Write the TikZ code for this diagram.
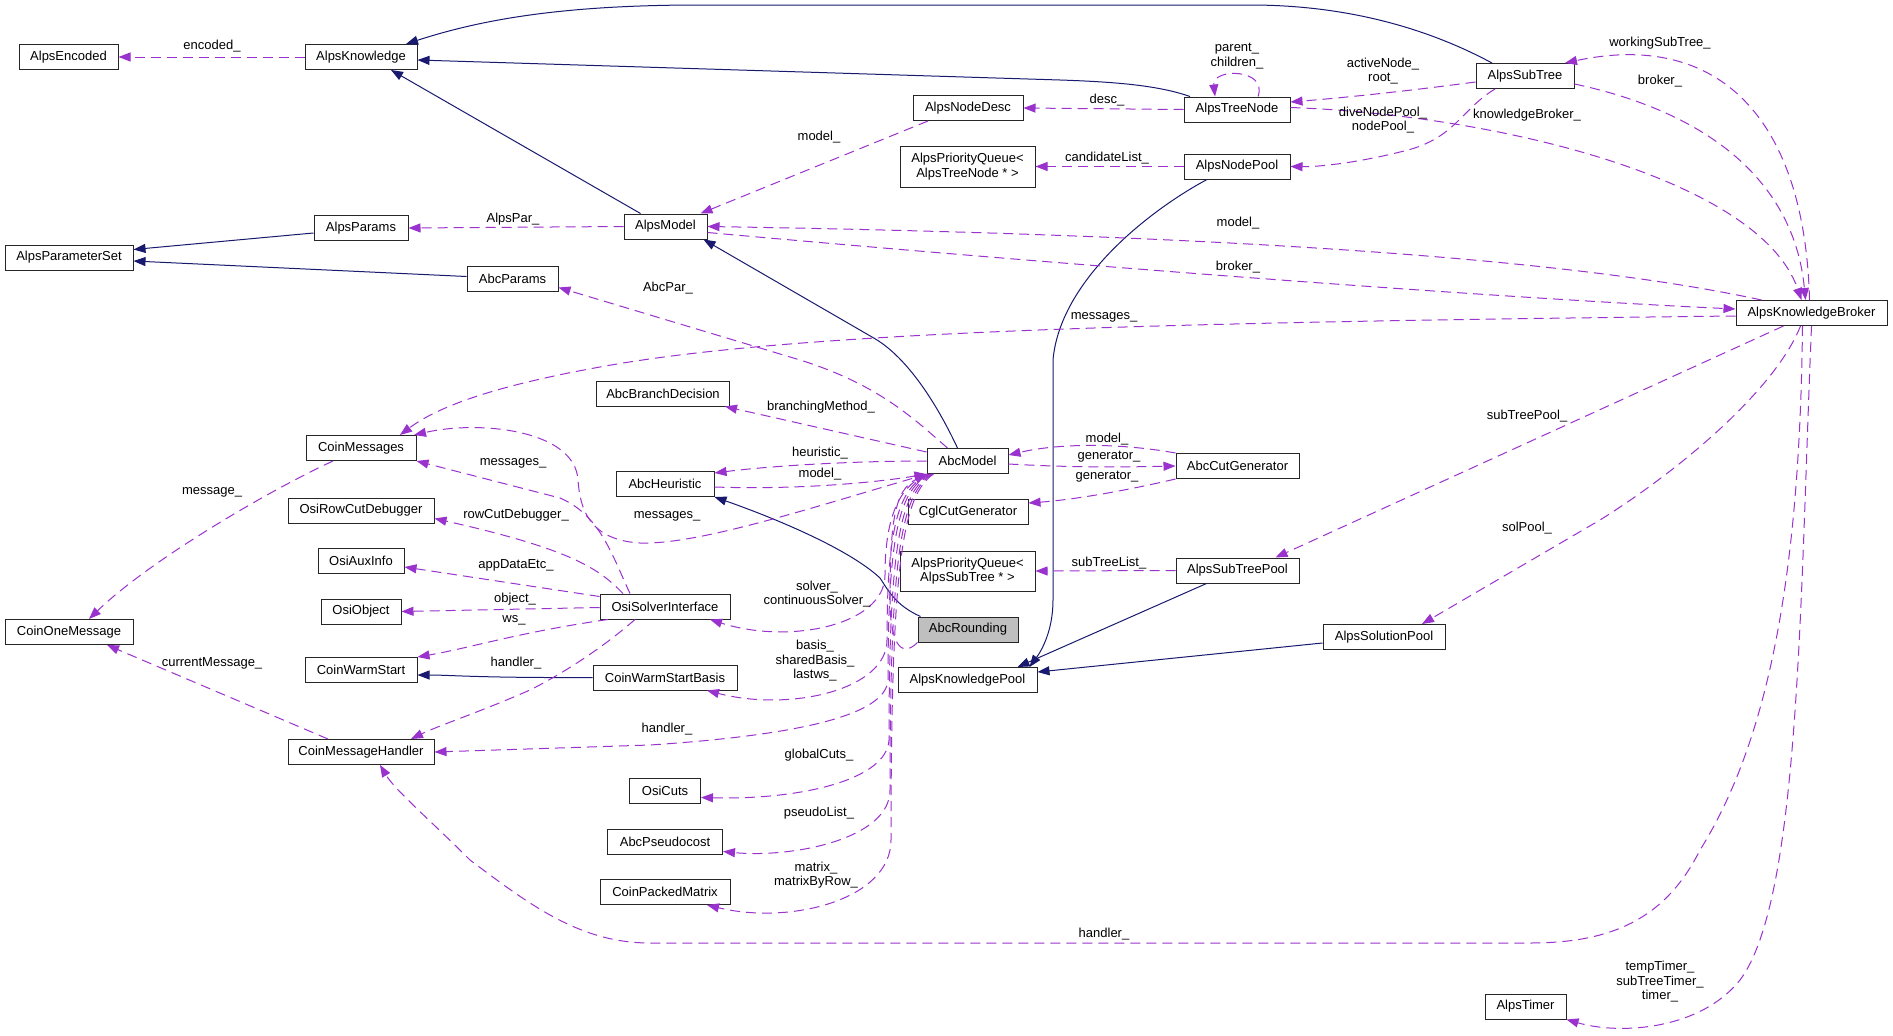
\documentclass[tikz,border=0pt]{standalone}
\usepackage{fontspec}
\setmainfont{Liberation Sans}
\usepackage{tikz}
\usetikzlibrary{arrows.meta}
\definecolor{inhblue}{RGB}{25,25,112}
\definecolor{usepurple}{RGB}{154,50,205}
\definecolor{focusgray}{RGB}{191,191,191}
\tikzstyle{cls} = [rectangle, draw=black!85, line width=1pt, fill=white, minimum height=25pt, inner sep=2pt, align=center, font=\fontsize{13}{14.5}\selectfont]
\tikzstyle{lbl} = [inner sep=0pt, align=center, font=\fontsize{13}{14.5}\selectfont]
\tikzstyle{inherit} = [draw=inhblue, line width=1pt, -{Triangle[length=12pt,width=9pt]}]
\tikzstyle{member} = [draw=usepurple, line width=1pt, dash pattern=on 10pt off 6pt, -{Triangle[length=12pt,width=9pt]}]

\begin{document}
\begin{tikzpicture}[x=1pt, y=-1pt]

        \fill[white] (0,0) rectangle (1893,1036);
        \useasboundingbox (0,0) rectangle (1893,1036);

        \node (encoded) [cls, minimum width=99pt] at (68.5,57) {AlpsEncoded};
        \node (knowledge) [cls, minimum width=112pt] at (361,57) {AlpsKnowledge};
        \node (alpsparams) [cls, minimum width=94pt] at (361,228) {AlpsParams};
        \node (paramset) [cls, minimum width=128pt] at (69,257.5) {AlpsParameterSet};
        \node (abcparams) [cls, minimum width=91pt] at (512.5,278.5) {AbcParams};
        \node (alpsmodel) [cls, minimum width=83pt] at (665.5,226.5) {AlpsModel};
        \node (nodedesc) [cls, minimum width=110pt] at (968,108) {AlpsNodeDesc};
        \node (pqtree) [cls, minimum width=135pt, minimum height=41pt] at (967.5,166.5) {AlpsPriorityQueue<\\AlpsTreeNode * >};
        \node (treenode) [cls, minimum width=106pt] at (1237,109.5) {AlpsTreeNode};
        \node (nodepool) [cls, minimum width=106pt] at (1237,166.5) {AlpsNodePool};
        \node (subtree) [cls, minimum width=98pt] at (1525,76) {AlpsSubTree};
        \node (broker) [cls, minimum width=151pt] at (1811.5,313) {AlpsKnowledgeBroker};

        \node (branchdec) [cls, minimum width=133pt] at (663,393.5) {AbcBranchDecision};
        \node (coinmsgs) [cls, minimum width=110pt] at (361,448) {CoinMessages};
        \node (heuristic) [cls, minimum width=98pt] at (665,484) {AbcHeuristic};
        \node (abcmodel) [cls, minimum width=81pt] at (967.5,461) {AbcModel};
        \node (cutgen) [cls, minimum width=123pt] at (1237.5,466) {AbcCutGenerator};
        \node (cglcut) [cls, minimum width=120pt] at (968,512) {CglCutGenerator};
        \node (rowcut) [cls, minimum width=146pt] at (361,510.5) {OsiRowCutDebugger};
        \node (auxinfo) [cls, minimum width=86pt] at (361,561) {OsiAuxInfo};
        \node (osiobject) [cls, minimum width=80pt] at (361,611.5) {OsiObject};
        \node (osisolver) [cls, minimum width=130pt] at (665,606.5) {OsiSolverInterface};
        \node (coinone) [cls, minimum width=128pt] at (69,632) {CoinOneMessage};
        \node (cws) [cls, minimum width=112pt] at (361,670) {CoinWarmStart};
        \node (cwsb) [cls, minimum width=144pt] at (665,677.5) {CoinWarmStartBasis};
        \node (pqsub) [cls, minimum width=135pt, minimum height=40pt] at (967.5,571) {AlpsPriorityQueue<\\AlpsSubTree * >};
        \node (subtreepool) [cls, minimum width=123pt] at (1237.5,570.5) {AlpsSubTreePool};
        \node (rounding) [cls, fill=focusgray, minimum width=100pt] at (968,629.5) {AbcRounding};
        \node (kpool) [cls, minimum width=139pt] at (967.5,680) {AlpsKnowledgePool};
        \node (solpool) [cls, minimum width=122pt] at (1384,637) {AlpsSolutionPool};
        \node (cmh) [cls, minimum width=146pt] at (361,752) {CoinMessageHandler};
        \node (osicuts) [cls, minimum width=71pt] at (665,790.5) {OsiCuts};
        \node (pseudo) [cls, minimum width=115pt] at (665,841.5) {AbcPseudocost};
        \node (cpm) [cls, minimum width=130pt] at (665,892) {CoinPackedMatrix};
        \node (timer) [cls, minimum width=81pt] at (1525.5,1006.5) {AlpsTimer};

        \draw[inherit] ([xshift=-33pt]subtree.north) .. controls (1440,35) and (1360,5) .. (1250,5) -- (700,5) .. controls (560,5) and (480,20) .. ([xshift=45pt]knowledge.north);
        \draw[inherit] ([xshift=-47pt]treenode.north) .. controls (1160,86) and (1120,82) .. (1060,80) -- ([yshift=-3pt]knowledge.east);
        \draw[inherit] ([xshift=-25pt]alpsmodel.north) -- ([xshift=30pt]knowledge.south);
        \draw[inherit] ([yshift=-5pt]alpsparams.west) -- ([yshift=8pt]paramset.east);
        \draw[inherit] ([yshift=2pt]abcparams.west) -- ([yshift=-3.5pt]paramset.east);
        \draw[inherit] ([xshift=-10pt]abcmodel.north) .. controls (935,400) and (905,355) .. (872,337) -- ([xshift=38pt]alpsmodel.south);
        \draw[inherit] ([xshift=3pt]rounding.north west) .. controls (895,605) and (888,590) .. (880,578) .. controls (850,550) and (780,520) .. (heuristic.south east);
        \draw[inherit] (cwsb.west) .. controls (480,678) and (450,675) .. ([yshift=-5pt]cws.east);
        \draw[inherit] ([xshift=-30pt]nodepool.south) .. controls (1150,210) and (1060,280) .. (1053,360) -- (1053,600) .. controls (1053,630) and (1042,650) .. ([xshift=62pt]kpool.north);
        \draw[inherit] ([xshift=-31pt]subtreepool.south) -- ([xshift=50pt]kpool.north);
        \draw[inherit] ([yshift=-6pt]solpool.west) -- ([yshift=8pt]kpool.east);

        \draw[member] (knowledge.west) -- (encoded.east);
        \draw[member] (alpsmodel.west) -- (alpsparams.east);
        \draw[member] (treenode.west) -- (nodedesc.east);
        \draw[member] ([xshift=21pt]treenode.north) .. controls (1268,68) and (1212,68) .. ([xshift=-22pt]treenode.north);
        \draw[member] ([xshift=-40pt]nodedesc.south) -- ([xshift=35pt]alpsmodel.north);
        \draw[member] (nodepool.west) -- (pqtree.east);
        \draw[member] ([yshift=-6pt]subtree.west) .. controls (1400,92) and (1340,98) .. ([yshift=7.5pt]treenode.east);
        \draw[member] ([xshift=-30pt]subtree.south) .. controls (1460,110) and (1455,140) .. (1400,152) .. controls (1360,162) and (1320,167) .. (nodepool.east);
        \draw[member] ([yshift=2pt]treenode.east) .. controls (1500,115) and (1760,180) .. ([xshift=-10pt]broker.north);
        \draw[member] ([yshift=-8pt]subtree.east) .. controls (1720,115) and (1795,190) .. ([xshift=-6pt]broker.north);
        \draw[member] ([xshift=-2pt]broker.north) .. controls (1805,120) and (1720,30) .. ([xshift=40pt]subtree.north);
        \draw[member] ([yshift=-6pt]alpsmodel.east) .. controls (1100,268) and (1500,298) .. ([yshift=4pt]broker.west);
        \draw[member] ([xshift=-50pt]broker.north) .. controls (1600,265) and (1300,236) .. (alpsmodel.east);
        \draw[member] ([yshift=-3pt]broker.west) .. controls (1200,322) and (800,330) .. (600,367) .. controls (500,385) and (440,405) .. ([xshift=39pt]coinmsgs.north);
        \draw[member] ([xshift=-20pt]abcmodel.north) .. controls (915,420) and (880,385) .. (800,360) -- ([yshift=-9pt]abcparams.east);
        \draw[member] ([yshift=9pt]abcmodel.west) -- ([xshift=-5pt]branchdec.south east);
        \draw[member] (abcmodel.west) .. controls (850,461) and (770,466) .. ([yshift=11pt]heuristic.east);
        \draw[member] ([yshift=-3pt]heuristic.east) .. controls (800,490) and (880,482) .. (abcmodel.south west);
        \draw[member] (rounding.south west) .. controls (900,660) and (890,640) .. (890,600) .. controls (890,520) and (895,490) .. (abcmodel.south west);
        \draw[member] ([xshift=1pt]abcmodel.south west) .. controls (820,505) and (700,545) .. (640,543) .. controls (590,540) and (580,510) .. (578,480) .. controls (575,430) and (480,420) .. ([xshift=53pt]coinmsgs.north);
        \draw[member] ([xshift=-35pt]osisolver.north) .. controls (612,555) and (600,515) .. (560,498) -- (coinmsgs.south east);
        \draw[member] ([xshift=-42pt]osisolver.north) .. controls (600,570) and (575,550) .. ([yshift=-8pt]rowcut.east);
        \draw[member] ([yshift=10pt]osisolver.west) -- ([yshift=-6pt]auxinfo.east);
        \draw[member] ([yshift=-1pt]osisolver.west) -- (osiobject.east);
        \draw[member] ([xshift=-57pt]osisolver.south) .. controls (520,632) and (470,648) .. (cws.north east);
        \draw[member] ([xshift=-30pt]osisolver.south) .. controls (600,650) and (560,675) .. (530,690) .. controls (480,712) and (440,725) .. ([xshift=50pt]cmh.north);
        \draw[member] ([xshift=-28pt]coinmsgs.south) .. controls (270,490) and (150,560) .. ([xshift=20pt]coinone.north);
        \draw[member] ([xshift=-33pt]cmh.north) -- ([xshift=38pt]coinone.south);
        \draw[member] ([xshift=-9pt]broker.south) .. controls (1800,550) and (1775,730) .. (1700,850) .. controls (1665,920) and (1610,943) .. (1530,943) -- (650,943) .. controls (580,943) and (530,905) .. (470,860) .. controls (430,820) and (395,790) .. ([xshift=19pt]cmh.south);
        \draw[member] (broker.south) .. controls (1800,600) and (1800,900) .. (1740,980) .. controls (1700,1030) and (1620,1035) .. (timer.south east);
        \draw[member] ([xshift=-28pt]broker.south) -- ([xshift=38pt]subtreepool.north);
        \draw[member] ([xshift=-11pt]broker.south) .. controls (1775,390) and (1680,470) .. (1600,520) -- ([xshift=38pt]solpool.north);
        \draw[member] ([yshift=-3pt]abcmodel.east) .. controls (1080,468) and (1130,467) .. (cutgen.west);
        \draw[member] (cutgen.north west) .. controls (1120,443) and (1060,443) .. ([yshift=6pt]abcmodel.east);
        \draw[member] (cutgen.south west) .. controls (1120,492) and (1070,500) .. ([yshift=9pt]cglcut.east);
        \draw[member] (subtreepool.west) -- (pqsub.east);
        \draw[member] ([xshift=2pt]abcmodel.south west) .. controls (898,485) and (885,520) .. (885,575) .. controls (885,625) and (790,645) .. ([xshift=45pt]osisolver.south);
        \draw[member] ([xshift=3pt]abcmodel.south west) .. controls (899,487) and (887,525) .. (887,640) .. controls (887,690) and (790,712) .. ([xshift=42pt]cwsb.south);
        \draw[member] ([xshift=4pt]abcmodel.south west) .. controls (900,489) and (888,530) .. (888,680) .. controls (886,715) and (800,735) .. (650,745) -- (cmh.east);
        \draw[member] ([xshift=5pt]abcmodel.south west) .. controls (901,491) and (889,540) .. (889,740) .. controls (887,780) and (800,800) .. ([yshift=-7pt]osicuts.east);
        \draw[member] ([xshift=6pt]abcmodel.south west) .. controls (902,493) and (890,550) .. (890,790) .. controls (890,840) and (790,858) .. ([yshift=-10pt]pseudo.east);
        \draw[member] ([xshift=7pt]abcmodel.south west) .. controls (903,495) and (891,560) .. (891,840) .. controls (891,900) and (790,925) .. ([xshift=42pt]cpm.south);

        \node (l-encoded) [lbl] at (212,46) {encoded\_};
        \node (l-alpspar) [lbl] at (513,219) {AlpsPar\_};
        \node (l-desc) [lbl] at (1107,100) {desc\_};
        \node (l-parent) [lbl] at (1237,56) {parent\_\\children\_};
        \node (l-descmodel) [lbl] at (819,137) {model\_};
        \node (l-candidate) [lbl] at (1107,158) {candidateList\_};
        \node (l-active) [lbl] at (1383,71) {activeNode\_\\root\_};
        \node (l-divepool) [lbl] at (1383,120) {diveNodePool\_\\nodePool\_};
        \node (l-kbroker) [lbl] at (1527,115) {knowledgeBroker\_};
        \node (l-stbroker) [lbl] at (1660,81) {broker\_};
        \node (l-working) [lbl] at (1660,43) {workingSubTree\_};
        \node (l-ambroker) [lbl] at (1238,267) {broker\_};
        \node (l-bmodel) [lbl] at (1238,223) {model\_};
        \node (l-bmsg) [lbl] at (1104,317) {messages\_};
        \node (l-abcpar) [lbl] at (668,288) {AbcPar\_};
        \node (l-branch) [lbl] at (821,407) {branchingMethod\_};
        \node (l-heur) [lbl] at (820,453) {heuristic\_};
        \node (l-hmodel) [lbl] at (820,474) {model\_};
        \node (l-amsg) [lbl] at (667,516) {messages\_};
        \node (l-omsg) [lbl] at (513,463) {messages\_};
        \node (l-rowcut) [lbl] at (516,515) {rowCutDebugger\_};
        \node (l-appdata) [lbl] at (516,565) {appDataEtc\_};
        \node (l-object) [lbl] at (515,599) {object\_};
        \node (l-ws) [lbl] at (514,620) {ws\_};
        \node (l-ohandler) [lbl] at (516,663) {handler\_};
        \node (l-message) [lbl] at (212,492) {message\_};
        \node (l-current) [lbl] at (212,663) {currentMessage\_};
        \node (l-bhandler) [lbl] at (1104,934) {handler\_};
        \node (l-ahandler) [lbl] at (667,729) {handler\_};
        \node (l-timer) [lbl] at (1660,982) {tempTimer\_\\subTreeTimer\_\\timer\_};
        \node (l-stpool) [lbl] at (1527,416) {subTreePool\_};
        \node (l-solpool) [lbl] at (1527,528) {solPool\_};
        \node (l-gen1) [lbl] at (1109,457) {generator\_};
        \node (l-cmodel) [lbl] at (1107,439) {model\_};
        \node (l-gen2) [lbl] at (1107,477) {generator\_};
        \node (l-stlist) [lbl] at (1109,563) {subTreeList\_};
        \node (l-solver) [lbl] at (817,594) {solver\_\\continuousSolver\_};
        \node (l-basis) [lbl] at (815,661) {basis\_\\sharedBasis\_\\lastws\_};
        \node (l-cuts) [lbl] at (819,755) {globalCuts\_};
        \node (l-pseudo) [lbl] at (819,813) {pseudoList\_};
        \node (l-matrix) [lbl] at (816,875) {matrix\_\\matrixByRow\_};

\end{tikzpicture}
\end{document}
